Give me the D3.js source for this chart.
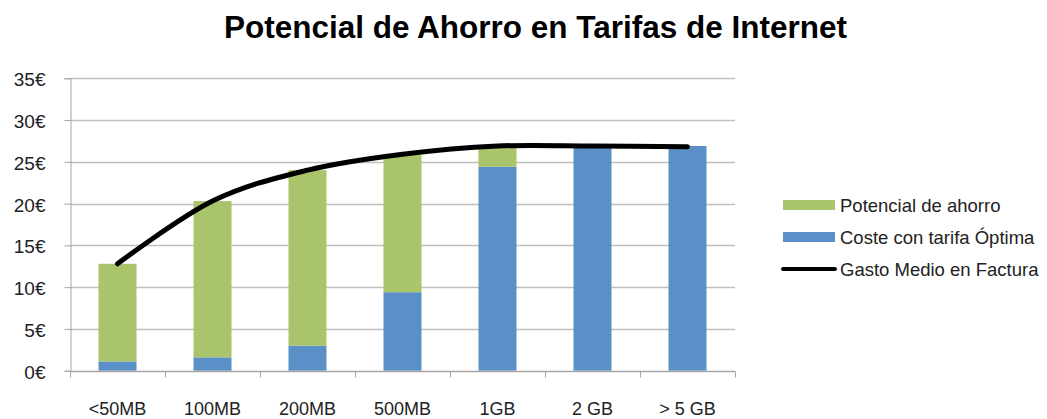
<!DOCTYPE html>
<html>
<head>
<meta charset="utf-8">
<script src="https://cdn.jsdelivr.net/npm/d3@7"></script>
<style>
  html, body { margin: 0; padding: 0; background: #fff; }
  svg { display: block; font-family: "Liberation Sans", Arial, sans-serif; }
</style>
</head>
<body>
<svg id="chart" width="1047" height="419"></svg>
<script>
const categories = ["<50MB", "100MB", "200MB", "500MB", "1GB", "2 GB", "> 5 GB"];
const costeOptima = [1.1, 1.6, 3.0, 9.4, 24.4, 26.7, 26.9];
const potencialAhorro = [11.7, 18.7, 21.0, 16.4, 2.3, 0, 0];
const gastoMedio = [12.8, 20.3, 24.0, 25.9, 26.9, 26.9, 26.8];
const yTicks = [0, 5, 10, 15, 20, 25, 30, 35];
const seriesNames = ["Potencial de ahorro", "Coste con tarifa Óptima", "Gasto Medio en Factura"];

const colors = { green: "#A9C46A", blue: "#5B8FC7", line: "#000000" };

const svg = d3.select("#chart");
const margin = { left: 70, right: 312, top: 78.3, bottom: 48.3 };
const W = 1047, H = 419;

const x = d3.scaleBand().domain(categories).range([margin.left, W - margin.right]).paddingInner(0.6).paddingOuter(0.3);
const y = d3.scaleLinear().domain([0, 35]).range([H - margin.bottom, margin.top]);

// Title
svg.append("text")
  .attr("x", 535.5).attr("y", 38)
  .attr("text-anchor", "middle")
  .attr("font-size", 31.5).attr("font-weight", "bold").attr("fill", "#000")
  .text("Potencial de Ahorro en Tarifas de Internet");

// Gridlines
svg.append("g").selectAll("line").data(yTicks.filter(d => d > 0)).join("line")
  .attr("x1", margin.left).attr("x2", W - margin.right)
  .attr("y1", d => Math.round(y(d)) + 0.5).attr("y2", d => Math.round(y(d)) + 0.5)
  .attr("stroke", "#BFBFBF").attr("stroke-width", 1.3);

// Y axis
const yAxis = d3.axisLeft(y).tickValues(yTicks).tickSize(6).tickPadding(19).tickFormat(d => d + "€");
const gy = svg.append("g").attr("transform", `translate(${margin.left + 0.5},0)`).call(yAxis);
gy.select(".domain").attr("stroke", "#A6A6A6");
gy.selectAll(".tick line").attr("stroke", "#A6A6A6");
gy.selectAll(".tick text").attr("font-size", 19).attr("fill", "#222")
  .attr("font-family", "Liberation Sans, Arial, sans-serif").attr("dy", "0.4em");

// Stacked bars
const stackData = categories.map((c, i) => ({ cat: c, coste: costeOptima[i], ahorro: potencialAhorro[i] }));
const stack = d3.stack().keys(["coste", "ahorro"])(stackData);
const fills = { coste: colors.blue, ahorro: colors.green };
svg.append("g").selectAll("g").data(stack).join("g")
  .attr("fill", d => fills[d.key])
  .selectAll("rect").data(d => d).join("rect")
  .attr("x", d => x(d.data.cat))
  .attr("width", x.bandwidth())
  .attr("y", d => y(d[1]))
  .attr("height", d => Math.max(0, y(d[0]) - y(d[1])));

// X axis
const xb = d3.scaleLinear().domain([0, categories.length]).range([margin.left, W - margin.right]);
const gx = svg.append("g").attr("transform", `translate(0,${Math.round(y(0)) + 0.5})`);
gx.append("line").attr("x1", margin.left).attr("x2", W - margin.right).attr("stroke", "#A6A6A6").attr("stroke-width", 1.3);
gx.selectAll("line.tk").data(d3.range(categories.length + 1)).join("line").attr("class", "tk")
  .attr("x1", d => Math.round(xb(d)) + 0.5).attr("x2", d => Math.round(xb(d)) + 0.5)
  .attr("y1", 0).attr("y2", 6).attr("stroke", "#A6A6A6");
gx.selectAll("text").data(categories).join("text")
  .attr("x", d => x(d) + x.bandwidth() / 2).attr("y", 43)
  .attr("text-anchor", "middle").attr("font-size", 18).attr("fill", "#222")
  .text(d => d);

// Line
const line = d3.line()
  .x((d, i) => x(categories[i]) + x.bandwidth() / 2)
  .y(d => y(d))
  .curve(d3.curveCardinal.tension(0));
svg.append("path").datum(gastoMedio)
  .attr("d", line).attr("fill", "none")
  .attr("stroke", colors.line).attr("stroke-width", 5)
  .attr("stroke-linecap", "round").attr("stroke-linejoin", "round");

// Legend
const legend = svg.append("g");
const rows = [
  { name: seriesNames[0], type: "rect", color: colors.green, cy: 205 },
  { name: seriesNames[1], type: "rect", color: colors.blue, cy: 237 },
  { name: seriesNames[2], type: "line", color: colors.line, cy: 269 }
];
rows.forEach(r => {
  if (r.type === "rect") {
    legend.append("rect").attr("x", 783).attr("y", r.cy - 5).attr("width", 52).attr("height", 10).attr("fill", r.color);
  } else {
    legend.append("line").attr("x1", 783).attr("x2", 835).attr("y1", r.cy).attr("y2", r.cy)
      .attr("stroke", r.color).attr("stroke-width", 4).attr("stroke-linecap", "round");
  }
  legend.append("text").attr("x", 840).attr("y", r.cy + 7)
    .attr("font-size", 18.5).attr("fill", "#222").text(r.name);
});
</script>
</body>
</html>
